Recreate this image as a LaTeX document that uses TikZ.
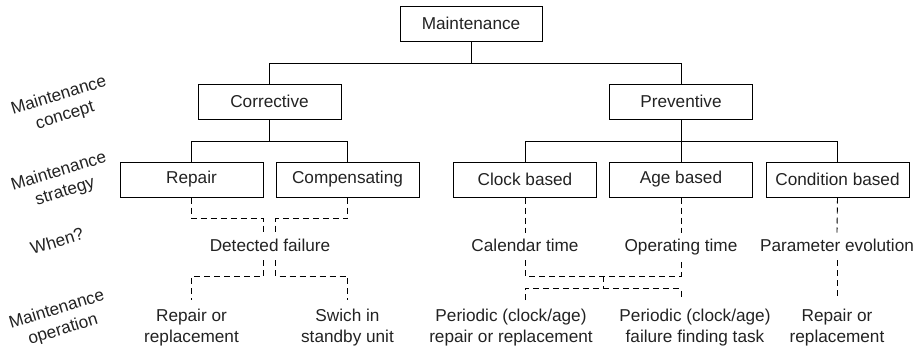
\documentclass[tikz,border=0pt]{standalone}
\usepackage{fontspec}
\setmainfont{Liberation Sans}
\usetikzlibrary{calc}
\definecolor{inkgray}{HTML}{222222}
\begin{document}
\begin{tikzpicture}[x=0.5pt,y=-0.5pt,
    every node/.style={font=\fontsize{8.6}{10.5}\selectfont,text=inkgray},
    box/.style={draw=black,line width=0.5pt,minimum width=71.5pt,minimum height=17.5pt,inner sep=0pt},
    when/.style={minimum height=13.5pt,inner sep=0pt,text height=6.3pt,text depth=1.7pt},
    optext/.style={anchor=north,align=center,inner xsep=0pt,inner ysep=4.5pt},
    rowlabel/.style={rotate=17,align=center},
    dashline/.style={line width=0.45pt,dash pattern=on 3pt off 2pt}]
      \useasboundingbox (0,0) rectangle (918,354);
      \draw
        (471,23.5) node[box,minimum width=71pt] (maint){Maintenance}
        (269.5,101.5) node[box] (corr){Corrective}
        (681,101.5) node[box] (prev){Preventive}
        (191.5,179.5) node[box] (repair){Repair}
        (347.5,179.5) node[box] (comp){Compensating}
        (525,179.5) node[box] (clock){Clock based}
        (681,179.5) node[box] (age){Age based}
        (837.5,179.5) node[box] (cond){Condition based};
      \draw
        (270,246.5) node[when] (detect){Detected failure}
        (525,246.5) node[when] (calendar){Calendar time}
        (681,246.5) node[when] (operating){Operating time}
        (837,246.5) node[when] (parameter){Parameter evolution};
      \draw
        (191.5,300) node[optext] (opRepair){Repair or\\replacement}
        (347.5,300) node[optext] (opSwitch){Swich in\\standby unit}
        (511,300) node[optext] (opPeriodic){Periodic (clock/age)\\repair or replacement}
        (695,300) node[optext] (opFinding){Periodic (clock/age)\\failure finding task}
        (837,300) node[optext] (opCondition){Repair or\\replacement};
      \draw
        (62,106) node[rowlabel] (lblConcept){Maintenance\\concept}
        (62,182) node[rowlabel] (lblStrategy){Maintenance\\strategy}
        (57,241) node[rowlabel] (lblWhen){When?}
        (60,320) node[rowlabel] (lblOperation){Maintenance\\operation};
      \begin{scope}[line width=0.5pt]
        \draw (maint.south) -- ++(0,21.5) -| (corr.north);
        \draw (maint.south) -- ++(0,21.5) -| (prev.north);
        \draw (corr.south) -- ++(0,21.5) -| (repair.north);
        \draw (corr.south) -- ++(0,21.5) -| (comp.north);
        \draw (prev.south) -- ++(0,21.5) -| (clock.north);
        \draw (prev.south) -- (age.north);
        \draw (prev.south) -- ++(0,21.5) -| (cond.north);
      \end{scope}
      \begin{scope}[dashline]
        \draw (repair.south) -- ++(0,21) -| (detect.north -| repair.east);
        \draw (comp.south) -- ++(0,21) -| (detect.north -| comp.west);
        \draw (detect.south -| repair.east) -- ++(0,16) -| (opRepair.north);
        \draw (detect.south -| comp.west) -- ++(0,16) -| (opSwitch.north);
        \draw (clock.south) -- (calendar.north);
        \draw (age.south) -- (operating.north);
        \draw (cond.south) -- (parameter.north);
        \draw (parameter.south) -- (opCondition.north);
        \draw (calendar.south) -- ++(0,16) -| (operating.south);
        \draw ($(calendar.south)!.5!(operating.south)+(0,16)$) -- ++(0,12) coordinate (split);
        \draw (opPeriodic.north -| calendar.south) |- (split) -| (opFinding.north -| operating.south);
      \end{scope}
    \end{tikzpicture}
\end{document}
